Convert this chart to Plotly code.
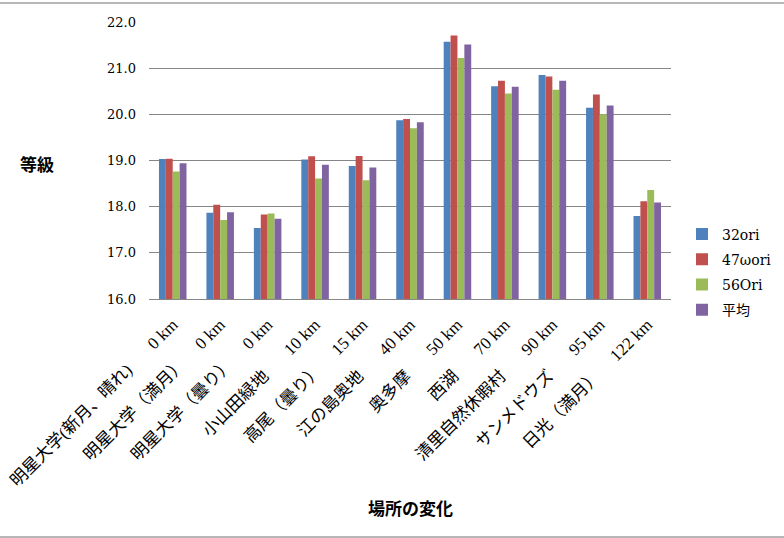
import plotly.graph_objects as go

places = ["明星大学(新月、晴れ)", "明星大学（満月）", "明星大学（曇り）", "小山田緑地",
          "高尾（曇り）", "江の島奥地", "奥多摩", "西湖", "清里自然休暇村",
          "サンメドウズ", "日光（満月）"]
distances = ["0 km", "0 km", "0 km", "10 km", "15 km", "40 km", "50 km",
             "70 km", "90 km", "95 km", "122 km"]
categories = [f"{p}　   {d}" for p, d in zip(places, distances)]

ori32 = [19.03, 17.87, 17.54, 19.02, 18.88, 19.87, 21.57, 20.61, 20.85, 20.14, 17.80]
omega47 = [19.04, 18.04, 17.83, 19.09, 19.10, 19.90, 21.71, 20.73, 20.82, 20.43, 18.12]
ori56 = [18.76, 17.71, 17.85, 18.61, 18.57, 19.70, 21.22, 20.45, 20.53, 20.00, 18.36]
average = [18.94, 17.88, 17.74, 18.91, 18.85, 19.83, 21.51, 20.60, 20.73, 20.19, 18.09]

series_names = ["32ori", "47ωori", "56Ori", "平均"]
series_values = [ori32, omega47, ori56, average]
colors = ["#4F81BD", "#C0504D", "#9BBB59", "#8064A2"]

serif = "DejaVu Serif, Noto Sans CJK JP, serif"
xserif = "Liberation Serif, Noto Sans CJK JP, serif"
gothic = "Noto Sans CJK JP, sans-serif"

fig = go.Figure()
for i, (name, vals, col) in enumerate(zip(series_names, series_values, colors)):
    fig.add_trace(go.Bar(x=categories, y=vals, name=name, marker_color=col,
                         marker_line_width=0, legendgroup=f"g{i}"))

# plot area in pixels
L, R, T, B = 149, 671, 22, 299
W, H = R - L, B - T

def px_x(p):
    return (p - L) / W

def px_y(p):
    return (B - p) / H

fig.update_layout(
    width=784, height=538,
    margin=dict(l=L, r=784 - R, t=T, b=538 - B, autoexpand=False),
    paper_bgcolor="white", plot_bgcolor="white",
    barmode="group", bargap=0.42, bargroupgap=0,
    font=dict(family=serif, size=13, color="#000000"),
    showlegend=True,
    legend=dict(x=px_x(682), y=px_y(272), xanchor="left", yanchor="middle",
                font=dict(family=serif, size=14), tracegroupgap=4,
                bgcolor="rgba(0,0,0,0)"),
    xaxis=dict(type="category", tickangle=-45, showgrid=False,
               showline=True, linecolor="#868686", linewidth=1,
               ticks="", tickfont=dict(family=xserif, size=17),
               ticklabelstandoff=8, automargin=False),
    yaxis=dict(range=[16, 22], dtick=1, tick0=16, tickformat=".1f",
               showgrid=True, gridcolor="#868686", gridwidth=1,
               zeroline=False, showline=False, ticks="",
               tickfont=dict(family=serif, size=13),
               ticklabelstandoff=12, automargin=False),
    annotations=[
        dict(text="<b>等級</b>", x=px_x(37), y=px_y(163), xref="paper", yref="paper",
             xanchor="center", yanchor="middle",
             showarrow=False, font=dict(family=gothic, size=17)),
        dict(text="<b>場所の変化</b>", x=px_x(410), y=px_y(507), xref="paper", yref="paper",
             xanchor="center", yanchor="middle",
             showarrow=False, font=dict(family=gothic, size=17)),
    ],
    shapes=[
        dict(type="rect", xref="paper", yref="paper",
             x0=px_x(-3), x1=px_x(787), y0=px_y(537), y1=px_y(3),
             line=dict(color="#A0A0A0", width=1.5), fillcolor="rgba(0,0,0,0)",
             layer="below"),
    ],
)

fig.write_html("out.html")
